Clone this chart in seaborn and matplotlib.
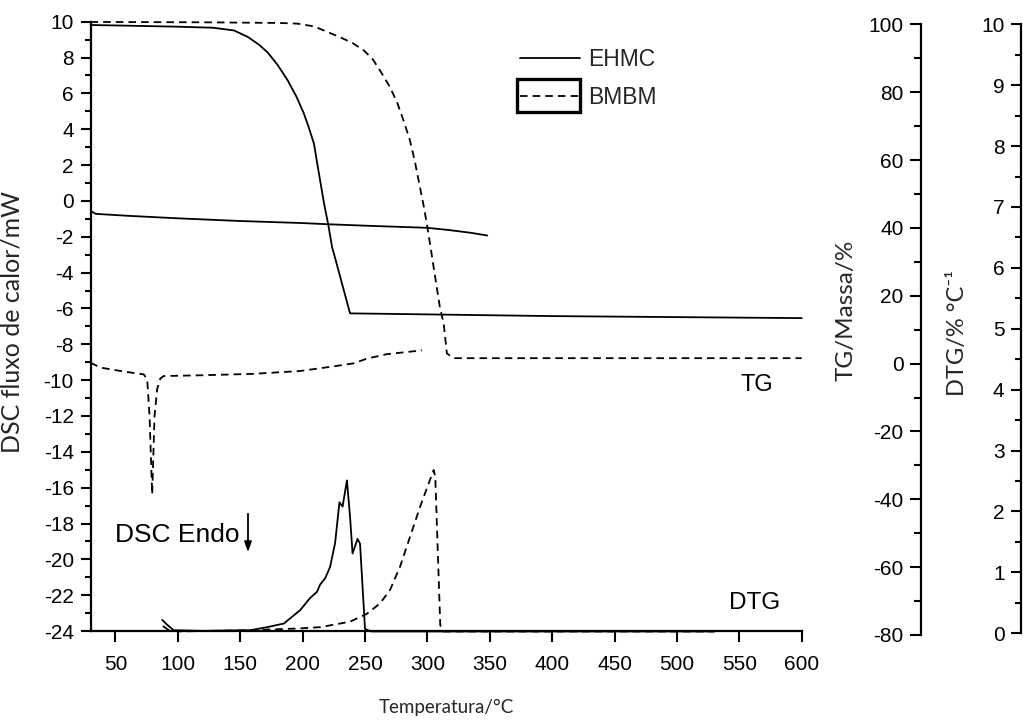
import numpy as np
import pandas as pd
import matplotlib
matplotlib.use("Agg")
import matplotlib.pyplot as plt
import seaborn as sns
from matplotlib.lines import Line2D
from matplotlib.patches import Rectangle
from matplotlib.ticker import MultipleLocator

sns.set_theme(style="ticks")
plt.rcParams['font.family'] = ['Liberation Sans', 'DejaVu Sans']
plt.rcParams['axes.unicode_minus'] = False

# ---- TG curves (mass, %) ----
ehmc_tg_t = [30, 60, 100, 128, 145, 156, 165, 172, 180, 188, 195, 201, 205, 209, 214, 217,
             220.6, 223.6, 225, 233, 238, 260, 340, 400, 500, 600]
ehmc_tg = [99.8, 99.6, 99.3, 99.0, 98.2, 96.3, 94.0, 91.7, 88.0, 83.5, 78.7, 73.7, 69.5, 64.9,
           54.0, 47.5, 40.8, 34.3, 32.5, 21.6, 14.8, 14.7, 14.3, 14.0, 13.7, 13.4]

bmbm_tg_t = [30, 120, 182, 196, 209, 217, 230, 240, 249, 256, 262, 270, 276, 281, 286, 290,
             294, 297, 300, 305, 310, 313, 315.6, 321, 400, 500, 600]
bmbm_tg = [100.7, 100.6, 100.4, 100.2, 99.4, 98.2, 96.2, 94.5, 92.3, 89.8, 86.4, 81.5, 76.7,
           71.5, 65.8, 59.5, 52.0, 46.5, 40.2, 28.4, 16.6, 11.9, 3.0, 1.6, 1.6, 1.6, 1.6]

# ---- DSC curves (heat flow, mW) ----
ehmc_dsc_t = [30, 34, 60, 100, 150, 198, 220, 250, 300, 318, 335, 348]
ehmc_dsc = [-0.55, -0.72, -0.83, -0.97, -1.12, -1.23, -1.30, -1.38, -1.50, -1.63, -1.78, -1.93]

bmbm_dsc_t = [30, 38, 55, 72.7, 75.4, 77.3, 79.4, 81.3, 83.4, 86, 88.7, 118, 160, 198, 225,
              241, 251.5, 267.5, 283.5, 295.6]
bmbm_dsc = [-9.03, -9.30, -9.50, -9.68, -9.95, -12.0, -16.37, -12.0, -10.5, -9.9, -9.77,
            -9.73, -9.65, -9.49, -9.23, -9.06, -8.80, -8.55, -8.43, -8.34]

# ---- DTG curves (%/°C) ----
ehmc_dtg_t = [87.4, 91.4, 96.6, 120, 158, 171.5, 185, 198, 206, 211.5, 214, 218, 222, 226,
              229.5, 232, 235.5, 238, 240, 244, 246, 250, 255, 530]
ehmc_dtg = [0.22, 0.14, 0.05, 0.04, 0.05, 0.10, 0.16, 0.38, 0.58, 0.68, 0.80, 0.90, 1.09,
            1.48, 2.15, 2.08, 2.51, 1.91, 1.31, 1.55, 1.47, 0.07, 0.03, 0.03]

bmbm_dtg_t = [88, 92, 100, 158, 198, 214, 238, 251.5, 262, 270, 278, 286, 294, 301, 305,
              306.3, 310.3, 313, 530]
bmbm_dtg = [0.12, 0.06, 0.03, 0.05, 0.08, 0.10, 0.19, 0.32, 0.49, 0.71, 1.09, 1.58, 2.07,
            2.46, 2.68, 2.57, 0.13, 0.03, 0.03]

x_ticks = [50, 100, 150, 200, 250, 300, 350, 400, 450, 500, 550, 600]
series_names = ["EHMC", "BMBM"]

LW = 1.3
DASH = (0, (4.2, 2.8))
TICK_FS = 15

fig = plt.figure(figsize=(10.23, 7.22), dpi=100)
L, W = 0.0885, 0.6952
ax = fig.add_axes([L, 0.1260, W, 0.8439])
ax_tg = fig.add_axes([L, 0.1205, W, 0.8458])
ax_dtg = fig.add_axes([L, 0.1229, W, 0.8435])

for a in (ax, ax_tg, ax_dtg):
    a.set_xlim(30, 600)
    a.patch.set_visible(False)
    a.grid(False)

# DSC axis
ax.set_ylim(-24, 10)
sns.lineplot(x=ehmc_dsc_t, y=ehmc_dsc, ax=ax, color="black", lw=LW, sort=False, estimator=None)
sns.lineplot(x=bmbm_dsc_t, y=bmbm_dsc, ax=ax, color="black", lw=LW, sort=False,
             estimator=None, linestyle=DASH)
for s in ("top", "right"):
    ax.spines[s].set_visible(False)
for s in ("left", "bottom"):
    ax.spines[s].set_linewidth(1.6)
    ax.spines[s].set_color("black")
ax.set_xticks(x_ticks)
ax.yaxis.set_major_locator(MultipleLocator(2))
ax.yaxis.set_minor_locator(MultipleLocator(1))
ax.tick_params(axis="x", which="major", length=8, width=1.5, pad=9, labelsize=TICK_FS,
               colors="black")
ax.tick_params(axis="y", which="major", length=7, width=1.5, pad=5, labelsize=TICK_FS,
               colors="black")
ax.tick_params(axis="y", which="minor", length=4, width=1.5, colors="black")
ax.set_xlabel("Temperatura/°C", family=["Lato", "DejaVu Sans"], fontsize=13.5, labelpad=18)
ax.set_ylabel("DSC fluxo de calor/mW", family=["Lato", "DejaVu Sans"], fontsize=18)
ax.yaxis.set_label_coords(-0.094, 0.507)

# TG axis
ax_tg.set_ylim(-80, 100)
sns.lineplot(x=ehmc_tg_t, y=ehmc_tg, ax=ax_tg, color="black", lw=LW, sort=False,
             estimator=None, clip_on=False)
sns.lineplot(x=bmbm_tg_t, y=bmbm_tg, ax=ax_tg, color="black", lw=LW, sort=False,
             estimator=None, linestyle=DASH, clip_on=False)
for s in ("top", "right", "bottom"):
    ax_tg.spines[s].set_visible(False)
ax_tg.spines["left"].set_position(("axes", 1.1684))
ax_tg.spines["left"].set_linewidth(1.6)
ax_tg.spines["left"].set_color("black")
ax_tg.xaxis.set_visible(False)
ax_tg.yaxis.set_major_locator(MultipleLocator(20))
ax_tg.yaxis.set_minor_locator(MultipleLocator(10))
ax_tg.tick_params(axis="y", which="major", length=8, width=1.5, pad=5, labelsize=TICK_FS,
                  colors="black")
ax_tg.tick_params(axis="y", which="minor", length=5, width=1.5, colors="black")
ax_tg.set_ylabel("TG/Massa/%", family=["Lato", "DejaVu Sans"], fontsize=17.5)
ax_tg.yaxis.set_label_coords(1.077, 0.532)

# DTG axis
ax_dtg.set_ylim(0, 10)
sns.lineplot(x=ehmc_dtg_t, y=ehmc_dtg, ax=ax_dtg, color="black", lw=LW, sort=False,
             estimator=None)
sns.lineplot(x=bmbm_dtg_t, y=bmbm_dtg, ax=ax_dtg, color="black", lw=LW, sort=False,
             estimator=None, linestyle=DASH)
for s in ("top", "right", "bottom"):
    ax_dtg.spines[s].set_visible(False)
ax_dtg.spines["left"].set_position(("axes", 1.3087))
ax_dtg.spines["left"].set_linewidth(1.6)
ax_dtg.spines["left"].set_color("black")
ax_dtg.xaxis.set_visible(False)
ax_dtg.yaxis.set_major_locator(MultipleLocator(1))
ax_dtg.yaxis.set_minor_locator(MultipleLocator(0.5))
ax_dtg.tick_params(axis="y", which="major", length=7, width=1.5, pad=5, labelsize=TICK_FS,
                   colors="black")
ax_dtg.tick_params(axis="y", which="minor", length=4, width=1.5, colors="black")
ax_dtg.set_ylabel("DTG/% °C⁻¹", family=["Lato", "DejaVu Sans"], fontsize=17)
ax_dtg.yaxis.set_label_coords(1.234, 0.493)

# Annotations on the DSC axis
ax.text(49.6, -18.64, "DSC Endo", fontsize=19, ha="left", va="center", color="black")
ax.annotate("", xy=(156.2, -19.75), xytext=(156.2, -17.3),
            arrowprops=dict(arrowstyle="-|>,head_length=0.5,head_width=0.18",
                            color="black", lw=1.3))
ax.text(564.2, -10.27, "TG", fontsize=17, ha="center", va="center", color="black")
ax.text(562.6, -22.44, "DTG", fontsize=17.5, ha="center", va="center", color="black")

# Legend
handles = [Line2D([], [], color="black", lw=LW),
           Line2D([], [], color="black", lw=LW, linestyle=DASH)]
ax.legend(handles, series_names, loc="upper left", bbox_to_anchor=(0.604, 0.957),
          frameon=False, fontsize=16.5, handlelength=2.6, handletextpad=0.35,
          labelspacing=0.65, borderpad=0, borderaxespad=0)
fig.patches.append(Rectangle((0.5054, 0.8449), 0.0616, 0.0457, transform=fig.transFigure,
                             fill=False, edgecolor="black", lw=2.4, figure=fig))

fig.savefig("out.png", dpi=100, facecolor="white")
